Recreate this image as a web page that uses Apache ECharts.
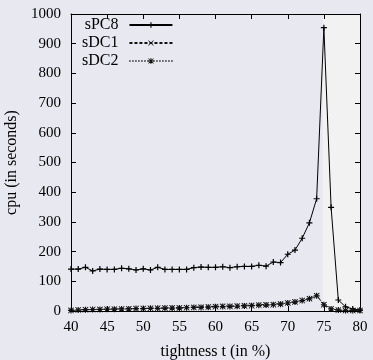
<!DOCTYPE html>
<html>
<head>
<meta charset="utf-8">
<script src="https://cdn.jsdelivr.net/npm/echarts@6/dist/echarts.min.js"></script>
<style>
  html, body { margin: 0; padding: 0; background: #e8e8f0; }
  #chart { width: 373px; height: 360px; }
</style>
</head>
<body>
<div id="chart"></div>
<script>
// tightness t (in %)
const tightness = [40, 41, 42, 43, 44, 45, 46, 47, 48, 49,
  50, 51, 52, 53, 54, 55, 56, 57, 58, 59,
  60, 61, 62, 63, 64, 65, 66, 67, 68, 69,
  70, 71, 72, 73, 74, 75, 76, 77, 78, 79, 80];

// cpu (in seconds)
const sPC8 = [141, 141, 147, 135, 141, 140, 140, 144, 142, 138,
  142, 138, 147, 140, 140, 140, 140, 146, 148, 147,
  147, 149, 146, 149, 150, 150, 154, 151, 165, 163,
  191, 205, 245, 297, 378, 954, 349, 37, 14, 7, 3];
const sDC1 = [3, 4, 5, 5, 6, 6, 7, 7, 8, 8,
  9, 9, 10, 10, 11, 11, 12, 13, 14, 15,
  16, 17, 17, 18, 19, 20, 21, 22, 23, 25,
  28, 31, 36, 42, 52, 22, 8, 3, 2, 2, 2];
const sDC2 = [2, 3, 4, 5, 5, 6, 6, 7, 7, 8,
  8, 9, 9, 10, 10, 10, 11, 12, 12, 13,
  14, 15, 15, 16, 17, 18, 19, 20, 21, 23,
  27, 30, 35, 41, 51, 21, 7, 3, 2, 2, 2];

// shaded region (phase transition)
const shadeRange = [74.85, 80];

const FONT = '"Liberation Serif", "DejaVu Serif", serif';

// marker shapes
const PLUS = 'path://M4,0h2v4h4v2h-4v4h-2v-4h-4v-2h4z';
const CROSS = 'path://M0,0.8L0.8,0L5,4.2L9.2,0L10,0.8L5.8,5L10,9.2L9.2,10L5,5.8L0.8,10L0,9.2L4.2,5Z';
const STAR = 'path://M0,0.8L0.8,0L5,4.2L9.2,0L10,0.8L5.8,5L10,9.2L9.2,10L5,5.8L0.8,10L0,9.2L4.2,5Z' +
  'M4,0h2v4h4v2h-4v4h-2v-4h-4v-2h4z';

function pairs(values) {
  return tightness.map((t, i) => [t, values[i]]);
}

const chart = echarts.init(document.getElementById('chart'));

const tickStyle = { show: true, inside: true, length: 5, lineStyle: { color: '#000', width: 1 } };
const lineStyle = { show: true, onZero: false, lineStyle: { color: '#000', width: 1 } };

chart.setOption({
  backgroundColor: '#e8e8f0',
  animation: false,
  textStyle: { fontFamily: FONT },
  grid: { left: 71, right: 13, top: 14, bottom: 49, containLabel: false, outerBoundsMode: 'none' },
  legend: {
    data: ['sPC8', 'sDC1', 'sDC2'],
    orient: 'vertical',
    align: 'right',
    left: 77,
    top: 12,
    itemWidth: 43,
    itemHeight: 7,
    itemGap: 2,
    textStyle: { fontFamily: FONT, fontSize: 16, color: '#000', padding: [0, 6, 0, 0] },
  },
  xAxis: [
    {
      type: 'value',
      min: 40,
      max: 80,
      interval: 5,
      z: 5,
      name: 'tightness t (in %)',
      nameLocation: 'middle',
      nameGap: 33,
      nameTextStyle: { fontFamily: FONT, fontSize: 16, color: '#000' },
      axisLine: lineStyle,
      axisTick: tickStyle,
      splitLine: { show: false },
      axisLabel: { margin: 9, fontFamily: FONT, fontSize: 15, color: '#000' },
    },
    {
      type: 'value',
      position: 'top',
      min: 40,
      max: 80,
      interval: 5,
      z: 5,
      axisLine: lineStyle,
      axisTick: tickStyle,
      splitLine: { show: false },
      axisLabel: { show: false },
    },
  ],
  yAxis: [
    {
      type: 'value',
      min: 0,
      max: 1000,
      interval: 100,
      z: 5,
      name: 'cpu (in seconds)',
      nameLocation: 'middle',
      nameGap: 49,
      nameTextStyle: { fontFamily: FONT, fontSize: 16, color: '#000' },
      axisLine: lineStyle,
      axisTick: tickStyle,
      splitLine: { show: false },
      axisLabel: { margin: 10, fontFamily: FONT, fontSize: 15, color: '#000', formatter: (v) => String(v) },
    },
    {
      type: 'value',
      position: 'right',
      min: 0,
      max: 1000,
      interval: 100,
      z: 5,
      axisLine: lineStyle,
      axisTick: tickStyle,
      splitLine: { show: false },
      axisLabel: { show: false },
    },
  ],
  series: [
    {
      name: 'shade',
      type: 'line',
      data: [],
      z: 1,
      silent: true,
      markArea: {
        silent: true,
        itemStyle: { color: '#f2f2f2' },
        data: [[{ xAxis: shadeRange[0] }, { xAxis: shadeRange[1] }]],
      },
    },
    {
      name: 'sPC8',
      type: 'line',
      data: pairs(sPC8),
      z: 3,
      symbol: PLUS,
      symbolSize: 6,
      showAllSymbol: true,
      lineStyle: { color: '#000', width: 1, type: 'solid' },
      itemStyle: { color: '#000' },
    },
    {
      name: 'sDC1',
      type: 'line',
      data: pairs(sDC1),
      z: 3,
      symbol: CROSS,
      symbolSize: 5,
      showAllSymbol: true,
      lineStyle: { color: '#111', width: 1, type: [3, 2] },
      itemStyle: { color: '#111' },
    },
    {
      name: 'sDC2',
      type: 'line',
      data: pairs(sDC2),
      z: 3,
      symbol: STAR,
      symbolSize: 6,
      showAllSymbol: true,
      lineStyle: { color: '#111', width: 1, type: [1, 2] },
      itemStyle: { color: '#111' },
    },
  ],
});
</script>
</body>
</html>
